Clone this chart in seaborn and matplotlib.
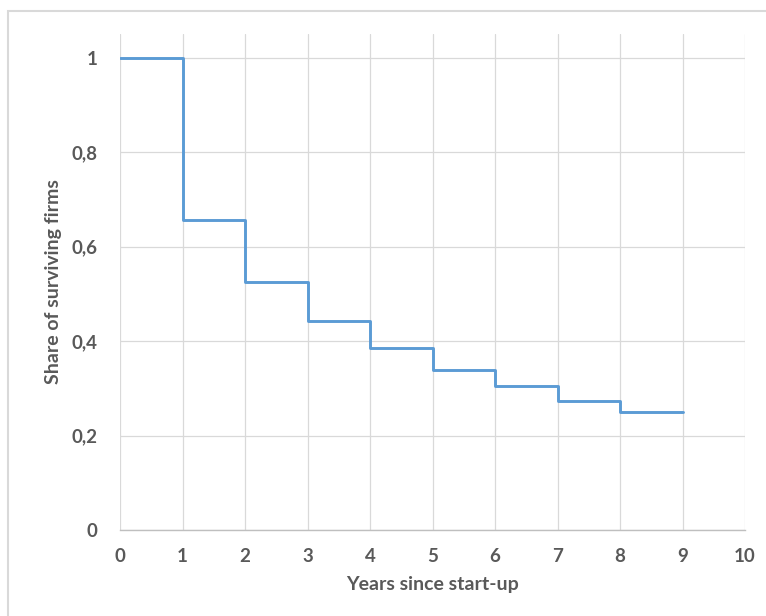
import numpy as np
import pandas as pd
import matplotlib.pyplot as plt
import seaborn as sns
from matplotlib.ticker import FuncFormatter
from matplotlib.patches import Rectangle

years = [0, 1, 2, 3, 4, 5, 6, 7, 8, 9]
share_surviving = [1.0, 0.657, 0.524, 0.443, 0.385, 0.338, 0.304, 0.273, 0.250, 0.250]
x_ticks = [0, 1, 2, 3, 4, 5, 6, 7, 8, 9, 10]
y_ticks = [0, 0.2, 0.4, 0.6, 0.8, 1.0]

sns.set_theme(style='white')
plt.rcParams['font.family'] = ['Lato', 'DejaVu Sans']

data = pd.DataFrame({'year': years, 'share': share_surviving})

fig = plt.figure(figsize=(7.66, 6.16), dpi=100)
ax = fig.add_axes([120 / 766, 1 - 530 / 616, 625 / 766, 496 / 616])

# outer chart frame like the spreadsheet export
fig.patches.append(Rectangle((8 / 766, -0.1), 1.2, 1 - 11 / 616 + 0.1,
                             transform=fig.transFigure, fill=False,
                             edgecolor='#D9D9D9', linewidth=1.5, zorder=0))

sns.lineplot(data=data, x='year', y='share', ax=ax, drawstyle='steps-post',
             color='#5B9BD5', linewidth=2.1, zorder=3)

ax.set_xlim(0, 10)
ax.set_ylim(0, 1.05)
ax.set_xticks(x_ticks)
ax.set_yticks(y_ticks)
ax.yaxis.set_major_formatter(FuncFormatter(
    lambda v, p: '0' if v == 0 else ('1' if v == 1 else f'{v:.1f}'.replace('.', ','))))

ax.grid(True, color='#D9D9D9', linewidth=0.9)
for side in ['top', 'left', 'right']:
    ax.spines[side].set_visible(False)
ax.spines['bottom'].set_color('#BFBFBF')
ax.spines['bottom'].set_linewidth(1.0)

ax.tick_params(axis='both', length=0, labelsize=13.5, labelcolor='#595959')
for lbl in ax.get_xticklabels() + ax.get_yticklabels():
    lbl.set_fontweight('bold')
ax.tick_params(axis='x', pad=13)
ax.tick_params(axis='y', pad=16)

ax.set_xlabel('Years since start-up', fontsize=14, fontweight='bold', color='#595959', labelpad=8)
ax.set_ylabel('Share of surviving firms', fontsize=14, fontweight='bold', color='#595959', labelpad=7)

fig.savefig('out.png', dpi=100)
